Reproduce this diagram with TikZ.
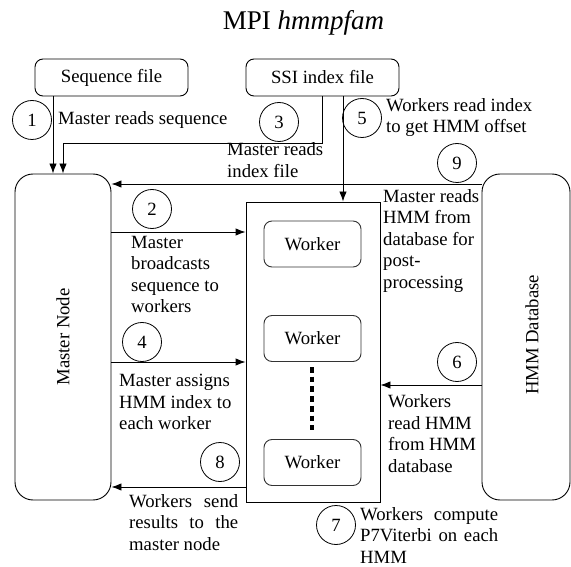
\documentclass[tikz,border=0pt]{standalone}
\usepackage{fontspec}
\setmainfont{Liberation Serif}
\usetikzlibrary{arrows.meta}
\begin{document}
\begin{tikzpicture}[x=1pt,y=-1pt,
  every node/.style={font=\fontsize{18.7}{21.5}\selectfont, inner sep=0pt},
  filebox/.style={draw, rounded corners=8pt, minimum width=153pt, minimum height=37pt, line width=0.9pt},
  bigbox/.style={draw, rounded corners=18pt, minimum height=326pt, line width=0.9pt},
  workbox/.style={draw, black!80, text=black, rounded corners=8pt, minimum width=97pt, minimum height=46pt, line width=0.9pt},
  stepnum/.style={draw, circle, minimum size=39pt, line width=0.8pt},
  note/.style={anchor=base west, align=left},
  arr/.style={-{Latex[length=10pt,width=7.5pt]}, line width=0.9pt}]
\useasboundingbox (0,0) rectangle (571,567);

% title
\node[font=\fontsize{27}{31}\selectfont, anchor=base] (title) at (303.5,30) {MPI \textit{hmmpfam}};

% input files
\node[filebox] (seq) at (111.5,77.5) {Sequence file};
\node[filebox] (ssi) at (322.5,77.5) {SSI index file};

% master and database
\node[bigbox, minimum width=96pt] (master) at (63,337) {};
\node[rotate=90] (masterlbl) at (63,337) {Master Node};
\node[bigbox, minimum width=88pt] (hmm) at (526,337) {};
\node[rotate=90] (hmmlbl) at (532,335) {HMM Database};

% worker pool
\node[draw, line width=0.9pt, minimum width=134pt, minimum height=300pt] (pool) at (313,352) {};
\node[workbox] (w1) at (312.5,244) {Worker};
\node[workbox] (w2) at (312.5,338.5) {Worker};
\node[workbox] (w3) at (312.5,462.5) {Worker};
\coordinate (dtop) at (312,367);
\coordinate (dbot) at (312,430);
\draw[line width=4.3pt, dash pattern=on 5.7pt off 4pt] (dtop) -- (dbot);

% step markers
\node[stepnum] (s1) at (32,120) {1};
\node[stepnum] (s2) at (152,209) {2};
\node[stepnum] (s3) at (279,122) {3};
\node[stepnum] (s4) at (142,342) {4};
\node[stepnum] (s5) at (362,118) {5};
\node[stepnum] (s6) at (457,362) {6};
\node[stepnum] (s7) at (336,525) {7};
\node[stepnum] (s8) at (220,462) {8};
\node[stepnum] (s9) at (457,163) {9};

% 1: read sequence
\draw[arr] (seq.south -| 53,0) -- (master.north -| 53,0);
% 3: read index file
\coordinate (k3a) at (322.5,143);
\coordinate (k3b) at (63,143);
\draw[arr] (ssi.south) -- (k3a) -- (k3b) -- (master.north -| k3b);
% 5: workers read index
\draw[arr] (ssi.south -| 343,0) -- (pool.north -| 343,0);
% 9: master reads HMM for post-processing
\draw[arr] (hmm.west |- 0,184) -- (master.east |- 0,184);
% 2: broadcast
\draw[arr] (master.east |- 0,232) -- (pool.west |- 0,232);
% 4: assign index
\draw[arr] (master.east |- 0,362) -- (pool.west |- 0,362);
% 6: workers read HMM
\draw[arr] (hmm.west |- 0,385) -- (pool.east |- 0,385);
% 8: send results
\draw[arr] (pool.west |- 0,487) -- (master.east |- 0,487);

% step descriptions (placed by the baseline of their last line)
\node[note] (t1) at (58,125) {Master reads sequence};
\node[note] (t3) at (227,177.5) {Master reads\\index file};
\node[note] (t5) at (386,133) {Workers read index\\to get HMM offset};
\node[note] (t9) at (383,288) {Master reads\\HMM from\\database for\\post-\\processing};
\node[note] (t2) at (131,312.5) {Master\\broadcasts\\sequence to\\workers};
\node[note] (t4) at (119,429.5) {Master assigns\\HMM index to\\each worker};
\node[note] (t6) at (388,472) {Workers\\read HMM\\from HMM\\database};
\node[note] (t8) at (129,550) {\makebox[109pt][s]{Workers send}\\\makebox[109pt][s]{results to the}\\master node};
\node[note] (t7) at (360,563) {\makebox[138pt][s]{Workers compute}\\\makebox[138pt][s]{P7Viterbi on each}\\HMM};
\end{tikzpicture}
\end{document}
